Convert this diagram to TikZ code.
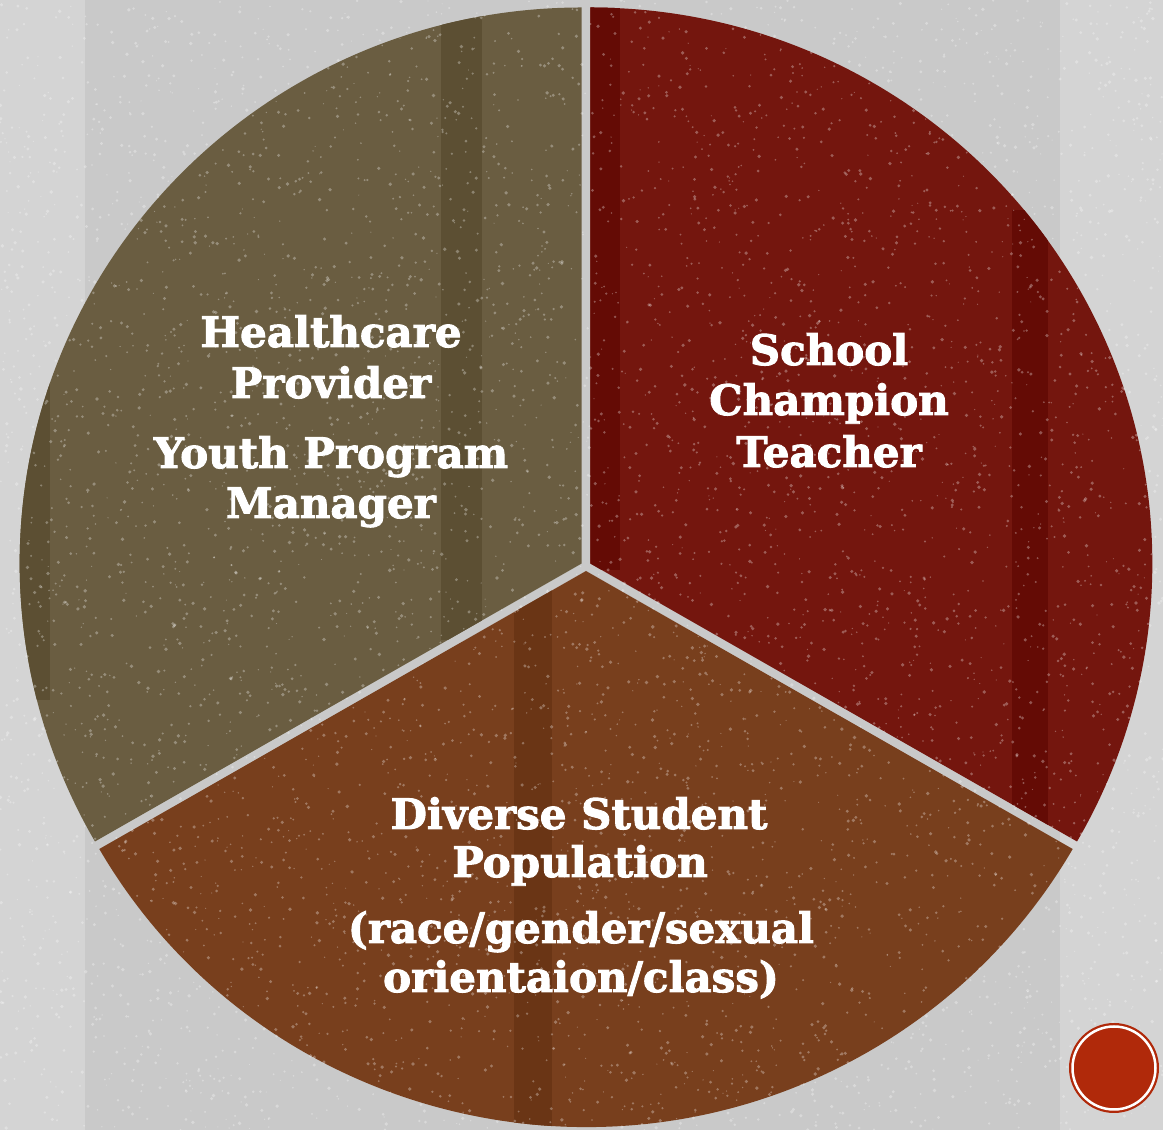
\documentclass[tikz,border=0pt]{standalone}
\usepackage{fontspec}
\setmainfont{DejaVu Serif}
\newfontfamily\lblfont{DejaVu Serif}[UprightFont=*-Bold, FakeBold=2.2]
\definecolor{bgc}{HTML}{C9C9C9}
\definecolor{bglight}{HTML}{D4D4D4}
\definecolor{olivec}{HTML}{6A5D41}
\definecolor{olivedark}{HTML}{5C4F33}
\definecolor{redc}{HTML}{74160E}
\definecolor{reddark}{HTML}{640B05}
\definecolor{brownc}{HTML}{783F1D}
\definecolor{browndark}{HTML}{6A3515}
\definecolor{btnc}{HTML}{B0290A}
\tikzset{
  lbl/.style={text=white, anchor=base, inner sep=0pt, font=\fontsize{42}{50}\lblfont},
  speck/.style={white, opacity=0.3},
}
\begin{document}
\begin{tikzpicture}[x=1pt,y=1pt]
\useasboundingbox (0,0) rectangle (1163,1130);
\fill[bgc] (0,0) rectangle (1163,1130);
\fill[bglight] (0,0) rectangle (85,1130);
\fill[bglight] (1060,0) rectangle (1163,1130);
% slices
\def\redpath{(590.33,566.5) -- ++(0,556) arc[start angle=90,end angle=-30,x radius=562,y radius=556] -- cycle}
\def\leftpath{(581.67,566.5) -- ++(0,556) arc[start angle=90,end angle=210,x radius=562,y radius=556] -- cycle}
\def\botpath{(586,559) -- ++(-486.71,-278) arc[start angle=210,end angle=330,x radius=562,y radius=556] -- cycle}
\fill[redc] \redpath;
\fill[olivec] \leftpath;
\fill[brownc] \botpath;
% darker bands
\begin{scope}
  \clip \redpath;
  \fill[reddark] (590,560) rectangle (620,1130);
  \fill[reddark] (1012,300) rectangle (1048,920);
\end{scope}
\begin{scope}
  \clip \leftpath;
  \fill[olivedark] (441,490) rectangle (482,1130);
  \fill[olivedark] (15,430) rectangle (50,780);
\end{scope}
\begin{scope}
  \clip \botpath;
  \fill[browndark] (514,0) rectangle (552,560);
\end{scope}
% speckles
\pgfmathsetseed{11}
\foreach \i in {1,...,6000}{
  \pgfmathsetmacro\xx{rnd*1163}
  \pgfmathsetmacro\yy{rnd*1130}
  \pgfmathsetmacro\rr{0.6+rnd*1.3}
  \fill[speck] (\xx,\yy) circle[radius=\rr];
}
% labels: left slice
\node[lbl] (hc1) at (331,783) {Healthcare};
\node[lbl] (hc2) at (331,732) {Provider};
\node[lbl] (yp1) at (331,662) {Youth Program};
\node[lbl] (yp2) at (331,612) {Manager};
% right slice
\node[lbl] (sc1) at (829,765) {School};
\node[lbl] (sc2) at (829,715) {Champion};
\node[lbl] (sc3) at (829,663) {Teacher};
% bottom slice
\node[lbl] (ds1) at (579,301) {Diverse Student};
\node[lbl] (ds2) at (580,253) {Population};
\node[lbl] (ds3) at (581,187) {(race/gender/sexual};
\node[lbl] (ds4) at (581,138) {orientaion/class)};
% corner button
\fill[btnc] (1114,62) circle[radius=45];
\draw[white, line width=2.5pt] (1114,62) circle[radius=41.5];
\end{tikzpicture}
\end{document}
